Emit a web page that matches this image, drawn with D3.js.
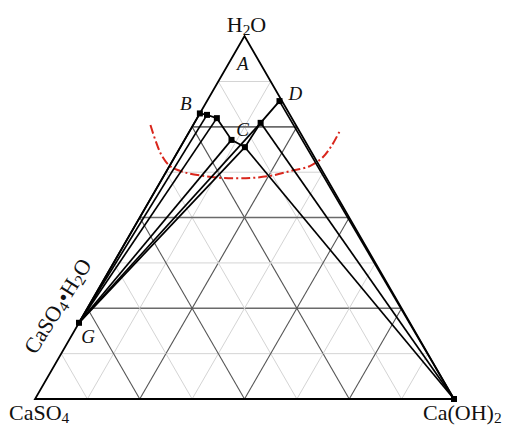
<!DOCTYPE html>
<html>
<head>
<meta charset="utf-8">
<script src="https://cdn.jsdelivr.net/npm/d3@7/dist/d3.min.js"></script>
<style>
  html, body { margin: 0; padding: 0; background: #fff; }
  svg { display: block; }
  text { font-family: "Liberation Serif", "Times New Roman", serif; fill: #111; }
</style>
</head>
<body>
<svg id="chart" width="510" height="428"></svg>
<script>
// Ternary system H2O – CaSO4 – Ca(OH)2, compositions as mass fractions.
// Each point: h = H2O fraction, c = Ca(OH)2 fraction (CaSO4 = 1 - h - c).

// Solubility curve points, from the CaSO4 side (B) to the Ca(OH)2 side (D)
const curveNames = ["B", "P1", "P2", "P3", "E", "P5", "D"];
const curveH = [0.787, 0.783, 0.774, 0.714, 0.694, 0.761, 0.821];
const curveC = [0.000, 0.019, 0.047, 0.112, 0.154, 0.158, 0.173];

// Solid phases the tie lines run to
const solidH = { G: 0.210, CH: 0.000 };
const solidC = { G: 0.000, CH: 1.000 };

// Tie lines: curve point index -> solid phase
const tieToG = [0, 1, 2, 3, 4, 5];
const tieToCH = [4, 5, 6];

// Boundary curve (dash-dot), ternary coordinates
const boundH = [0.755, 0.708, 0.670, 0.642, 0.626, 0.616, 0.609, 0.609, 0.615, 0.628, 0.642, 0.667, 0.700, 0.742];
const boundC = [-0.102, -0.065, -0.032, 0.001, 0.040, 0.086, 0.144, 0.209, 0.254, 0.295, 0.335, 0.354, 0.359, 0.358];

// Grid divisions
const divisions = 8;

const svg = d3.select("#chart");

const x0 = 35, x1 = 454, yBase = 399;
const side = x1 - x0;
const triHeight = side * Math.sqrt(3) / 2;

// Cartesian scales on the triangle plane
const xs = d3.scaleLinear().domain([0, 1]).range([x0, x1]);
const ys = d3.scaleLinear().domain([0, 1]).range([yBase, yBase - triHeight]);
const px = (h, c) => [xs(c + h / 2), ys(h)];

// Grid lines parallel to each side
const grid = svg.append("g");
for (let i = 1; i < divisions; i++) {
  const f = i / divisions;
  const major = i % 2 === 0;
  const segs = [
    [px(f, 0), px(f, 1 - f)],        // constant H2O (horizontal)
    [px(0, f), px(1 - f, f)],        // constant Ca(OH)2
    [px(0, 1 - f), px(1 - f, 0)]     // constant CaSO4
  ];
  segs.forEach((s, k) => {
    grid.append("line")
      .attr("x1", s[0][0]).attr("y1", s[0][1])
      .attr("x2", s[1][0]).attr("y2", s[1][1])
      .attr("stroke", major ? (k === 0 ? "#6a6a6a" : "#555") : "#d4d4d4")
      .attr("stroke-width", major ? (k === 0 ? 1.6 : 1.1) : 1);
  });
}

// Outer triangle
const corners = [px(0, 0), px(0, 1), px(1, 0)];
svg.append("path")
  .attr("d", d3.line()(corners) + "Z")
  .attr("fill", "none")
  .attr("stroke", "#000")
  .attr("stroke-width", 1.8)
  .attr("stroke-linejoin", "miter");

// Boundary curve
const boundPts = boundH.map((h, i) => px(h, boundC[i]));
svg.append("path")
  .attr("d", d3.line().curve(d3.curveCatmullRom.alpha(0.5))(boundPts))
  .attr("fill", "none")
  .attr("stroke", "#d9261c")
  .attr("stroke-width", 2)
  .attr("stroke-dasharray", "9,3,2,3");

// Tie lines
const ties = svg.append("g").attr("stroke", "#000").attr("stroke-width", 1.7);
const gPt = px(solidH.G, solidC.G);
const chPt = px(solidH.CH, solidC.CH);
tieToG.forEach(i => {
  const p = px(curveH[i], curveC[i]);
  ties.append("line").attr("x1", gPt[0]).attr("y1", gPt[1]).attr("x2", p[0]).attr("y2", p[1]);
});
tieToCH.forEach(i => {
  const p = px(curveH[i], curveC[i]);
  ties.append("line").attr("x1", chPt[0]).attr("y1", chPt[1]).attr("x2", p[0]).attr("y2", p[1]);
});

// Solubility curve
const curvePts = curveH.map((h, i) => px(h, curveC[i]));
svg.append("path")
  .attr("d", d3.line()(curvePts))
  .attr("fill", "none")
  .attr("stroke", "#000")
  .attr("stroke-width", 1.8);

// Markers
const markers = curvePts.concat([gPt, chPt]);
svg.append("g").selectAll("rect").data(markers).join("rect")
  .attr("x", d => d[0] - 3).attr("y", d => d[1] - 3)
  .attr("width", 6).attr("height", 6)
  .attr("fill", "#000");

// Chemical formula with subscripts
function chem(sel, parts) {
  parts.forEach(p => {
    const t = sel.append("tspan").text(p.t);
    if (p.sub) t.attr("font-size", "0.7em").attr("baseline-shift", "-0.22em");
  });
  return sel;
}

const apex = px(1, 0);
chem(svg.append("text").attr("x", apex[0] + 2).attr("y", apex[1] - 4)
  .attr("text-anchor", "middle").attr("font-size", 22),
  [{t: "H"}, {t: "2", sub: true}, {t: "O"}]);

chem(svg.append("text").attr("x", 9).attr("y", 420)
  .attr("font-size", 22),
  [{t: "CaSO"}, {t: "4", sub: true}]);

chem(svg.append("text").attr("x", 423).attr("y", 420)
  .attr("font-size", 22),
  [{t: "Ca(OH)"}, {t: "2", sub: true}]);

chem(svg.append("text")
  .attr("transform", "translate(64,310) rotate(-58)")
  .attr("text-anchor", "middle").attr("font-size", 22),
  [{t: "CaSO"}, {t: "4", sub: true}, {t: "\u2022H"}, {t: "2", sub: true}, {t: "O"}]);

// Point labels
const italic = (t, xy) => svg.append("text")
  .attr("x", xy[0]).attr("y", xy[1]).attr("dy", "0.35em")
  .attr("text-anchor", "middle").attr("font-style", "italic")
  .attr("font-size", 19).text(t);

italic("A", px(0.926, 0.033));
const bp = curvePts[0]; italic("B", [bp[0] - 14, bp[1] - 10]);
const dp = curvePts[6]; italic("D", [dp[0] + 16, dp[1] - 8]);
const cp = curvePts[5]; italic("C", [cp[0] - 18, cp[1] + 6]);
italic("G", [gPt[0] + 9, gPt[1] + 14]);
</script>
</body>
</html>
